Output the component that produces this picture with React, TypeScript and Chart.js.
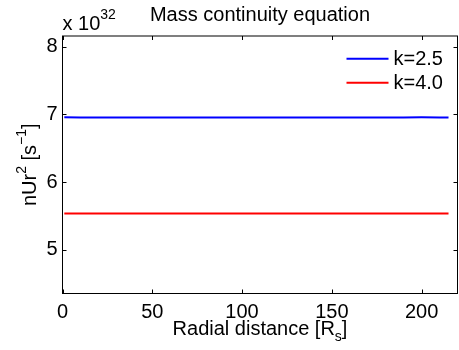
import React, { useEffect, useRef } from "react";
import { Chart, registerables } from "chart.js";

Chart.register(...registerables);

// ---- data (values in units of 10^32 s^-1) ----
const radialDistance = [1, 10, 20, 30, 40, 50, 60, 70, 80, 90, 100, 110, 120, 130, 140, 150, 160, 170, 180, 190, 200, 210, 215];
const k25Values = [6.957, 6.956, 6.955, 6.956, 6.955, 6.954, 6.955, 6.956, 6.955, 6.954, 6.955, 6.955, 6.954, 6.955, 6.956, 6.955, 6.954, 6.956, 6.955, 6.956, 6.957, 6.955, 6.954];
const k40Values = [5.539, 5.538, 5.538, 5.539, 5.538, 5.538, 5.537, 5.538, 5.539, 5.538, 5.538, 5.537, 5.538, 5.538, 5.539, 5.538, 5.537, 5.538, 5.538, 5.537, 5.538, 5.539, 5.538];
const seriesLabels = ["k=2.5", "k=4.0"];
const seriesColors = ["#0000ff", "#ff0000"];
const xTicks = [0, 50, 100, 150, 200];
const yTicks = [5, 6, 7, 8];
const xRange = [0, 220];
const yRange = [4.357, 8.158];
const titleText = "Mass continuity equation";
const exponentText = "32";

const FONT = '"Liberation Sans", Arial, Helvetica, sans-serif';

type Run = { text: string; size: number; dy: number };

function drawRuns(ctx: CanvasRenderingContext2D, runs: Run[], x: number, y: number, align: "left" | "center") {
  let total = 0;
  const widths = runs.map((r) => {
    ctx.font = `${r.size}px ${FONT}`;
    const w = ctx.measureText(r.text).width;
    total += w;
    return w;
  });
  let cx = align === "center" ? x - total / 2 : x;
  ctx.textAlign = "left";
  ctx.textBaseline = "alphabetic";
  runs.forEach((r, i) => {
    ctx.font = `${r.size}px ${FONT}`;
    ctx.fillText(r.text, cx, y + r.dy);
    cx += widths[i];
  });
}

const decorPlugin = {
  id: "decor",
  afterDraw(chart: any) {
    const { ctx, chartArea: a, scales } = chart;
    const xs = scales.x;
    const ys = scales.y;
    ctx.save();
    ctx.strokeStyle = "#000";
    ctx.lineWidth = 1;
    ctx.strokeRect(a.left, a.top, a.right - a.left, a.bottom - a.top);
    const tl = 4;
    ctx.beginPath();
    for (const v of xTicks) {
      const px = Math.round(xs.getPixelForValue(v)) + 0.5;
      ctx.moveTo(px, a.bottom);
      ctx.lineTo(px, a.bottom - tl);
      ctx.moveTo(px, a.top);
      ctx.lineTo(px, a.top + tl);
    }
    for (const v of yTicks) {
      const py = Math.round(ys.getPixelForValue(v)) + 0.5;
      ctx.moveTo(a.left, py);
      ctx.lineTo(a.left + tl, py);
      ctx.moveTo(a.right, py);
      ctx.lineTo(a.right - tl, py);
    }
    ctx.stroke();

    ctx.fillStyle = "#000";
    const cx = (a.left + a.right) / 2;
    const cy = (a.top + a.bottom) / 2;

    // title
    drawRuns(ctx, [{ text: titleText, size: 20, dy: 0 }], cx, 21, "center");

    // exponent
    drawRuns(
      ctx,
      [
        { text: "x 10", size: 20, dy: 0 },
        { text: exponentText, size: 14, dy: -11 },
      ],
      a.left,
      30,
      "left"
    );

    // x label
    drawRuns(
      ctx,
      [
        { text: "Radial distance [R", size: 20, dy: 0 },
        { text: "s", size: 14, dy: 6 },
        { text: "]", size: 20, dy: 0 },
      ],
      cx,
      335,
      "center"
    );

    // y label
    ctx.save();
    ctx.translate(36, cy);
    ctx.rotate(-Math.PI / 2);
    drawRuns(
      ctx,
      [
        { text: "nUr", size: 20, dy: 0 },
        { text: "2", size: 14, dy: -10 },
        { text: " [s", size: 20, dy: 0 },
        { text: "\u22121", size: 14, dy: -10 },
        { text: "]", size: 20, dy: 0 },
      ],
      0,
      0,
      "center"
    );
    ctx.restore();

    // legend
    const lx0 = a.right - 111;
    const lx1 = a.right - 69;
    const tx = a.right - 64;
    seriesLabels.forEach((lab, i) => {
      const ly = a.top + 22.7 + i * 24;
      ctx.strokeStyle = seriesColors[i];
      ctx.lineWidth = 2;
      ctx.beginPath();
      ctx.moveTo(lx0, ly);
      ctx.lineTo(lx1, ly);
      ctx.stroke();
      ctx.fillStyle = "#000";
      ctx.font = `20px ${FONT}`;
      ctx.textAlign = "left";
      ctx.textBaseline = "middle";
      ctx.fillText(lab, tx, ly + 1);
    });
    ctx.restore();
  },
};

export default function App() {
  const ref = useRef<HTMLCanvasElement | null>(null);
  useEffect(() => {
    if (!ref.current) return;
    const chart = new Chart(ref.current, {
      type: "line",
      data: {
        datasets: [
          {
            label: seriesLabels[0],
            data: radialDistance.map((x, i) => ({ x, y: k25Values[i] })),
            borderColor: seriesColors[0],
            borderWidth: 2,
            pointRadius: 0,
            tension: 0,
          },
          {
            label: seriesLabels[1],
            data: radialDistance.map((x, i) => ({ x, y: k40Values[i] })),
            borderColor: seriesColors[1],
            borderWidth: 2,
            pointRadius: 0,
            tension: 0,
          },
        ],
      },
      options: {
        animation: false,
        responsive: false,
        maintainAspectRatio: false,
        layout: { padding: { top: 36, right: 1.5, left: 0, bottom: 0 } },
        plugins: {
          legend: { display: false },
          title: { display: false },
          tooltip: { enabled: false },
        },
        scales: {
          x: {
            type: "linear",
            min: xRange[0],
            max: xRange[1],
            grid: { display: false, drawTicks: false },
            border: { display: false },
            ticks: {
              color: "#000",
              font: { family: FONT, size: 20 },
              padding: 7,
              maxRotation: 0,
              autoSkip: false,
            },
            afterBuildTicks: (s: any) => {
              s.ticks = xTicks.map((v) => ({ value: v }));
            },
            afterFit: (s: any) => {
              s.height = 56.5;
            },
          },
          y: {
            type: "linear",
            min: yRange[0],
            max: yRange[1],
            grid: { display: false, drawTicks: false },
            border: { display: false },
            ticks: {
              color: "#000",
              font: { family: FONT, size: 20 },
              padding: 5,
              autoSkip: false,
            },
            afterBuildTicks: (s: any) => {
              s.ticks = yTicks.map((v) => ({ value: v }));
            },
            afterFit: (s: any) => {
              s.width = 62.5;
            },
          },
        },
      },
      plugins: [decorPlugin],
    });
    return () => chart.destroy();
  }, []);
  return (
    <div style={{ position: "fixed", left: 0, top: 0, width: 459, height: 350, background: "#fff" }}>
      <canvas ref={ref} width={459} height={350} style={{ display: "block", width: 459, height: 350 }} />
    </div>
  );
}
